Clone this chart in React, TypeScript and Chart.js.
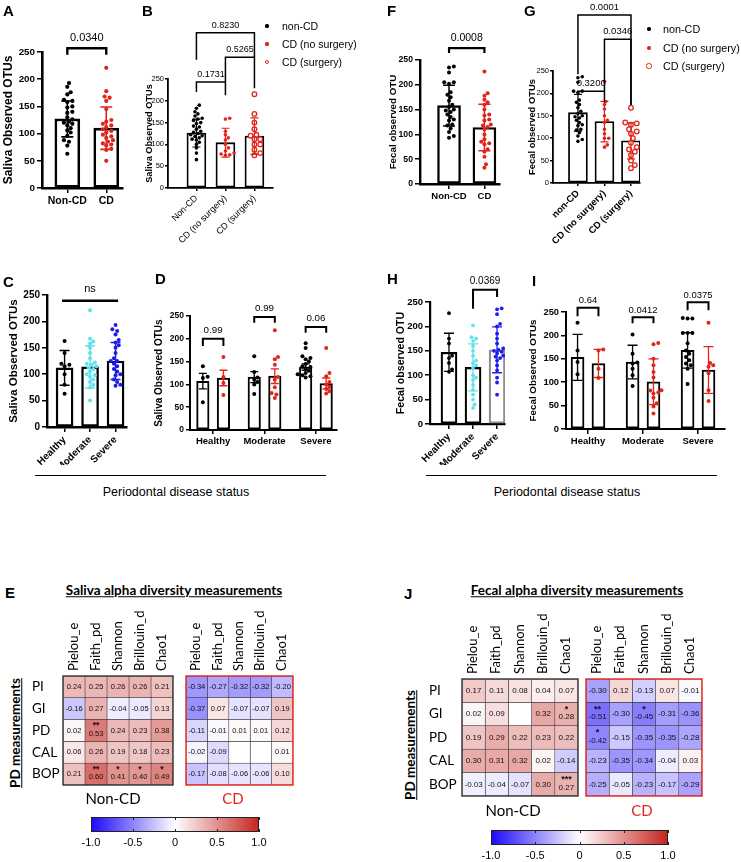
import React, { useEffect, useRef } from 'react';
import { Chart, registerables } from 'chart.js';

Chart.register(...registerables);
Chart.defaults.color = '#000';

const ARIAL = '"Liberation Sans", Arial, Helvetica, sans-serif';
const LATO = 'Lato, "Liberation Sans", sans-serif';
const BLACK = '#000000';
const RED = '#E1251B';
const CYAN = '#5FE2EA';
const BLUE = '#1C1CEE';
const GREYBAR = '#8C8C8C';

// ---------------- Panel A (saliva, Non-CD vs CD) ----------------
const aCategories = ['Non-CD', 'CD'];
const aNonCD = [193, 186, 176, 172, 162, 160, 158, 150, 148, 140, 138, 130, 126, 122, 120, 118, 115, 110, 106, 102, 96, 88, 85, 78, 63];
const aCD = [221, 178, 168, 166, 160, 145, 125, 122, 118, 115, 112, 108, 105, 102, 98, 95, 92, 88, 85, 82, 80, 78, 72, 70, 50];
const aMeans = [127, 110];
const aErrs = [33, 39];
const aPvals = ['0.0340'];

// ---------------- Panel B (saliva, surgery split) ----------------
const bCategories = ['Non-CD', 'CD (no surgery)', 'CD (surgery)'];
const bNonCD = [190, 183, 175, 170, 165, 160, 158, 155, 150, 148, 142, 140, 135, 130, 128, 125, 122, 120, 118, 115, 112, 110, 105, 100, 92, 80, 65];
const bNoSurgery = [160, 158, 130, 122, 115, 110, 100, 92, 85, 80, 78, 76, 75];
const bSurgery = [215, 170, 150, 135, 122, 120, 112, 112, 100, 100, 88, 80, 75];
const bMeans = [126, 104, 119];
const bErrs = [32, 33, 42];
const bPvals = ['0.1731', '0.5265', '0.8230'];

// ---------------- Panel F (fecal, Non-CD vs CD) ----------------
const fCategories = ['Non-CD', 'CD'];
const fNonCD = [237, 235, 225, 205, 205, 202, 185, 180, 175, 168, 160, 155, 150, 148, 145, 140, 135, 130, 128, 120, 118, 112, 105, 97, 93];
const fCD = [227, 183, 178, 170, 165, 160, 150, 140, 138, 130, 128, 120, 118, 115, 110, 100, 90, 85, 82, 80, 70, 65, 55, 40, 33];
const fMeans = [158, 114];
const fErrs = [41, 47];
const fPvals = ['0.0008'];

// ---------------- Panel G (fecal, surgery split) ----------------
const gCategories = ['non-CD', 'CD (no surgery)', 'CD (surgery)'];
const gNonCD = [237, 235, 225, 205, 205, 202, 185, 180, 175, 168, 160, 155, 150, 148, 145, 140, 135, 130, 128, 120, 118, 112, 105, 97, 93];
const gNoSurgery = [227, 182, 175, 165, 150, 140, 135, 120, 110, 100, 100, 85, 80];
const gSurgery = [168, 135, 133, 130, 120, 115, 110, 100, 90, 80, 75, 70, 62, 50, 40, 33];
const gMeans = [157, 137, 94];
const gErrs = [41, 45, 40];
const gPvals = ['0.3200', '0.0346', '0.0001'];

// ---------------- Panel C (saliva, periodontal status) ----------------
const cCategories = ['Healthy', 'Moderate', 'Severe'];
const cHealthy = [163, 140, 120, 118, 115, 100, 80, 63];
const cModerate = [221, 167, 162, 158, 150, 140, 130, 122, 120, 118, 115, 112, 110, 105, 100, 98, 95, 90, 85, 80, 75, 50];
const cSevere = [193, 185, 182, 175, 165, 160, 155, 150, 140, 130, 125, 125, 120, 115, 110, 105, 100, 98, 90, 85, 80, 78];
const cMeans = [112, 114, 125];
const cErrs = [33, 40, 35];
const cPvals = ['ns'];

// ---------------- Panel D (saliva, status x CD) ----------------
const dCategories = ['Healthy', 'Moderate', 'Severe'];
const dHealthyNonCD = [140, 117, 114, 61];
const dHealthyCD = [160, 116, 103, 77];
const dModerateNonCD = [162, 127, 115, 110, 105, 100, 79];
const dModerateCD = [219, 160, 155, 143, 116, 110, 94, 81, 78, 70];
const dSevereNonCD = [190, 180, 162, 158, 155, 150, 145, 140, 138, 135, 130, 125, 122, 120, 118, 115];
const dSevereCD = [180, 125, 118, 105, 100, 95, 90, 85, 80];
const dMeans = [107, 114, 116, 118, 138, 102];
const dErrs = [17, 17, 12, 16, 7, 12];
const dPvals = ['0.99', '0.99', '0.06'];

// ---------------- Panel H (fecal, periodontal status) ----------------
const hCategories = ['Healthy', 'Moderate', 'Severe'];
const hHealthy = [227, 175, 165, 140, 135, 125, 112, 107];
const hModerate = [202, 178, 175, 170, 160, 150, 140, 130, 125, 120, 115, 100, 95, 90, 80, 70, 60, 50, 40, 33];
const hSevere = [237, 235, 225, 205, 200, 185, 175, 165, 155, 152, 150, 148, 145, 140, 138, 135, 130, 120, 110, 95, 85, 60];
const hMeans = [147, 116, 152];
const hErrs = [39, 48, 47];
const hPvals = ['0.0369'];

// ---------------- Panel I (fecal, status x CD) ----------------
const iCategories = ['Healthy', 'Moderate', 'Severe'];
const iHealthyNonCD = [227, 168, 143, 117];
const iHealthyCD = [170, 168, 129, 109];
const iModerateNonCD = [202, 161, 142, 140, 129, 115, 92];
const iModerateCD = [184, 181, 150, 136, 122, 110, 83, 82, 78, 76, 67, 55, 48, 33];
const iSevereNonCD = [237, 236, 236, 205, 205, 205, 183, 168, 161, 154, 147, 140, 136, 129, 96];
const iSevereCD = [227, 141, 136, 133, 119, 83, 60];
const iMeans = [153, 140, 143, 101, 168, 126];
const iErrs = [49, 30, 36, 49, 38, 50];
const iPvals = ['0.64', '0.0412', '0.0375'];

const legendLabels = ['non-CD', 'CD (no surgery)', 'CD (surgery)'];
const yAxisMax = 250;
const yAxisStep = 50;

// ---------------- Heatmaps (E, J) ----------------
const hmRows = ['PI', 'GI', 'PD', 'CAL', 'BOP'];
const hmCols = ['Pielou_e', 'Faith_pd', 'Shannon', 'Brillouin_d', 'Chao1'];
const eNonCD = [
  [0.24, 0.25, 0.26, 0.26, 0.21],
  [-0.16, 0.27, -0.04, -0.05, 0.13],
  [0.02, 0.53, 0.24, 0.23, 0.38],
  [0.06, 0.26, 0.19, 0.18, 0.23],
  [0.21, 0.60, 0.41, 0.40, 0.49],
];
const eNonCDStars = [
  ['', '', '', '', ''],
  ['', '', '', '', ''],
  ['', '**', '', '', ''],
  ['', '', '', '', ''],
  ['', '**', '*', '*', '*'],
];
const eCD = [
  [-0.34, -0.27, -0.32, -0.32, -0.20],
  [-0.37, 0.07, -0.07, -0.07, 0.19],
  [-0.11, -0.01, 0.01, 0.01, 0.12],
  [-0.02, -0.09, null, null, 0.01],
  [-0.17, -0.08, -0.06, -0.06, 0.10],
];
const eCDStars = [
  ['', '', '', '', ''],
  ['', '', '', '', ''],
  ['', '', '', '', ''],
  ['', '', '', '', ''],
  ['', '', '', '', ''],
];
const jNonCD = [
  [0.17, 0.11, 0.08, 0.04, 0.07],
  [0.02, 0.09, null, 0.32, 0.28],
  [0.19, 0.29, 0.22, 0.23, 0.22],
  [0.30, 0.31, 0.32, 0.02, -0.14],
  [-0.03, -0.04, -0.07, 0.30, 0.27],
];
const jNonCDStars = [
  ['', '', '', '', ''],
  ['', '', '', '', '*'],
  ['', '', '', '', ''],
  ['', '', '', '', ''],
  ['', '', '', '', '***'],
];
const jCD = [
  [-0.30, 0.12, -0.13, 0.07, -0.01],
  [-0.51, -0.30, -0.45, -0.31, -0.36],
  [-0.42, -0.15, -0.35, -0.35, -0.28],
  [-0.23, -0.35, -0.34, -0.04, 0.03],
  [-0.25, -0.05, -0.23, -0.17, -0.29],
];
const jCDStars = [
  ['', '', '', '', ''],
  ['**', '', '*', '', ''],
  ['*', '', '', '', ''],
  ['', '', '', '', ''],
  ['', '', '', '', ''],
];
const colorbarRange = [-1, 1];
const colorbarTicks = [-1, -0.5, 0, 0.5, 1];

// ---------------- helpers ----------------
const NEG = [28, 8, 250];
const POS = [196, 36, 30];
function corrColor(v: number | null): string {
  if (v === null || v === undefined) return '#ffffff';
  const t = Math.min(1, Math.pow(Math.abs(v), 0.8));
  const end = v < 0 ? NEG : POS;
  const c = end.map((e) => Math.round(255 + (e - 255) * t));
  return `rgb(${c[0]},${c[1]},${c[2]})`;
}

function swarm(values: number[], center: number, pxPerVal: number, pxPerX: number, r: number, maxSpread: number) {
  const order = values.map((_, i) => i).sort((a, b) => values[a] - values[b]);
  const placed: { x: number; y: number }[] = [];
  const out: { x: number; y: number }[] = new Array(values.length);
  const minD = 2 * r * 0.95;
  for (const i of order) {
    const py = values[i] * pxPerVal;
    let best = 0;
    let bestScore = -1;
    for (let k = 0; k < 60; k++) {
      const cand = k === 0 ? 0 : (k % 2 ? 1 : -1) * Math.ceil(k / 2) * r * 0.8;
      if (Math.abs(cand) > maxSpread) break;
      let dmin = Infinity;
      for (const p of placed) {
        const d = Math.hypot(p.x - cand, p.y - py);
        if (d < dmin) dmin = d;
      }
      if (dmin >= minD) { best = cand; bestScore = Infinity; break; }
      if (dmin > bestScore) { bestScore = dmin; best = cand; }
    }
    placed.push({ x: best, y: py });
    out[i] = { x: center + best / pxPerX, y: values[i] };
  }
  return out;
}

type Group = { values: number[]; x: number; mean: number; err: number; color: string; hollow?: boolean; border?: string };
type Bracket = { x1: number; x2: number; y: number; l1: number; l2: number; label: string };
type Panel = {
  canvas: number[]; plot: number[]; xMin: number; xMax: number; ticks: number[]; tickLabels: string[]; rotation: number;
  groups: Group[]; barThickness: number; lw: number; radius: number; cap: number; errLw: number;
  yTitle: string; titleSize: number; tickSize: number; tickBold: boolean; xSize: number; xBold: boolean; tickLen: number;
  brackets: Bracket[]; bracketSize: number; bracketGap: number; bracketLw: number;
};

const panels: Panel[] = [
  {
    canvas: [1, 0, 140, 215], plot: [42, 52, 123, 188], xMin: -0.65, xMax: 1.43, ticks: [0, 1], tickLabels: aCategories, rotation: 0,
    groups: [
      { values: aNonCD, x: 0, mean: aMeans[0], err: aErrs[0], color: BLACK },
      { values: aCD, x: 1, mean: aMeans[1], err: aErrs[1], color: RED },
    ],
    barThickness: 25, lw: 2.6, radius: 2.1, cap: 6, errLw: 1.6,
    yTitle: 'Saliva Observed OTUs', titleSize: 12, tickSize: 9.8, tickBold: true, xSize: 10.5, xBold: true, tickLen: 5,
    brackets: [{ x1: 0, x2: 1, y: 257, l1: 245, l2: 245, label: aPvals[0] }], bracketSize: 11, bracketGap: 7, bracketLw: 2.4,
  },
  {
    canvas: [144, 0, 140, 262], plot: [168, 79, 273, 188], xMin: -0.98, xMax: 2.64, ticks: [0, 1, 2], tickLabels: bCategories, rotation: 45,
    groups: [
      { values: bNonCD, x: 0, mean: bMeans[0], err: bErrs[0], color: BLACK },
      { values: bNoSurgery, x: 1, mean: bMeans[1], err: bErrs[1], color: RED },
      { values: bSurgery, x: 2, mean: bMeans[2], err: bErrs[2], color: RED, hollow: true },
    ],
    barThickness: 19, lw: 1.8, radius: 1.8, cap: 4, errLw: 1.2,
    yTitle: 'Saliva Observed OTUs', titleSize: 9.2, tickSize: 7.5, tickBold: false, xSize: 9, xBold: false, tickLen: 3,
    brackets: [
      { x1: 0, x2: 1, y: 243, l1: 220, l2: 213, label: bPvals[0] },
      { x1: 1, x2: 2, y: 300, l1: 243, l2: 229, label: bPvals[1] },
      { x1: 0, x2: 2, y: 356, l1: 294, l2: 300, label: bPvals[2] },
    ], bracketSize: 9, bracketGap: 5, bracketLw: 1.5,
  },
  {
    canvas: [387, 0, 125, 210], plot: [420, 60, 500, 184], xMin: -0.82, xMax: 1.44, ticks: [0, 1], tickLabels: fCategories, rotation: 0,
    groups: [
      { values: fNonCD, x: 0, mean: fMeans[0], err: fErrs[0], color: BLACK },
      { values: fCD, x: 1, mean: fMeans[1], err: fErrs[1], color: RED },
    ],
    barThickness: 23, lw: 2.4, radius: 2.0, cap: 6, errLw: 1.5,
    yTitle: 'Fecal observed OTU', titleSize: 9.8, tickSize: 8.7, tickBold: true, xSize: 9.5, xBold: true, tickLen: 5,
    brackets: [{ x1: 0, x2: 1, y: 274, l1: 264, l2: 264, label: fPvals[0] }], bracketSize: 10.5, bracketGap: 7, bracketLw: 2.2,
  },
  {
    canvas: [527, 0, 124, 262], plot: [553, 71, 640, 183], xMin: -0.94, xMax: 2.34, ticks: [0, 1, 2], tickLabels: gCategories, rotation: 45,
    groups: [
      { values: gNonCD, x: 0, mean: gMeans[0], err: gErrs[0], color: BLACK },
      { values: gNoSurgery, x: 1, mean: gMeans[1], err: gErrs[1], color: RED },
      { values: gSurgery, x: 2, mean: gMeans[2], err: gErrs[2], color: RED, hollow: true },
    ],
    barThickness: 19, lw: 1.8, radius: 1.8, cap: 4, errLw: 1.2,
    yTitle: 'Fecal observed OTUs', titleSize: 9.4, tickSize: 7.5, tickBold: false, xSize: 9.5, xBold: true, tickLen: 3,
    brackets: [
      { x1: 0, x2: 1, y: 205, l1: 196, l2: 181, label: gPvals[0] },
      { x1: 1, x2: 2, y: 321, l1: 205, l2: 174, label: gPvals[1] },
      { x1: 0, x2: 2, y: 375, l1: 243, l2: 174, label: gPvals[2] },
    ], bracketSize: 9.5, bracketGap: 5, bracketLw: 1.5,
  },
  {
    canvas: [7, 270, 130, 195], plot: [47, 295, 127, 427], xMin: -0.69, xMax: 2.45, ticks: [0, 1, 2], tickLabels: cCategories, rotation: 45,
    groups: [
      { values: cHealthy, x: 0, mean: cMeans[0], err: cErrs[0], color: BLACK },
      { values: cModerate, x: 1, mean: cMeans[1], err: cErrs[1], color: CYAN },
      { values: cSevere, x: 2, mean: cMeans[2], err: cErrs[2], color: BLUE },
    ],
    barThickness: 17, lw: 2.4, radius: 2.0, cap: 5, errLw: 1.4,
    yTitle: 'Saliva Observed OTUs', titleSize: 11.5, tickSize: 10, tickBold: true, xSize: 10, xBold: true, tickLen: 5,
    brackets: [{ x1: -0.1, x2: 2.1, y: 239, l1: 239, l2: 239, label: cPvals[0] }], bracketSize: 11, bracketGap: 9, bracketLw: 2.4,
  },
  {
    canvas: [153, 290, 195, 165], plot: [190, 316, 337, 430], xMin: -0.45, xMax: 2.41, ticks: [0, 1, 2], tickLabels: dCategories, rotation: 0,
    groups: [
      { values: dHealthyNonCD, x: -0.2, mean: dMeans[0], err: dErrs[0], color: BLACK },
      { values: dHealthyCD, x: 0.2, mean: dMeans[1], err: dErrs[1], color: RED },
      { values: dModerateNonCD, x: 0.8, mean: dMeans[2], err: dErrs[2], color: BLACK },
      { values: dModerateCD, x: 1.2, mean: dMeans[3], err: dErrs[3], color: RED },
      { values: dSevereNonCD, x: 1.8, mean: dMeans[4], err: dErrs[4], color: BLACK },
      { values: dSevereCD, x: 2.2, mean: dMeans[5], err: dErrs[5], color: RED },
    ],
    barThickness: 12.5, lw: 2, radius: 2.0, cap: 4, errLw: 1.3,
    yTitle: 'Saliva Observed OTUs', titleSize: 10, tickSize: 8.5, tickBold: true, xSize: 9.5, xBold: true, tickLen: 4,
    brackets: [
      { x1: -0.2, x2: 0.2, y: 200, l1: 184, l2: 184, label: dPvals[0] },
      { x1: 0.8, x2: 1.2, y: 248, l1: 235, l2: 235, label: dPvals[1] },
      { x1: 1.8, x2: 2.2, y: 226, l1: 213, l2: 213, label: dPvals[2] },
    ], bracketSize: 9.8, bracketGap: 6, bracketLw: 2,
  },
  {
    canvas: [395, 270, 120, 195], plot: [430, 302, 505, 424], xMin: -0.79, xMax: 2.33, ticks: [0, 1, 2], tickLabels: hCategories, rotation: 45,
    groups: [
      { values: hHealthy, x: 0, mean: hMeans[0], err: hErrs[0], color: BLACK },
      { values: hModerate, x: 1, mean: hMeans[1], err: hErrs[1], color: CYAN },
      { values: hSevere, x: 2, mean: hMeans[2], err: hErrs[2], color: BLUE, border: GREYBAR },
    ],
    barThickness: 16, lw: 2.2, radius: 1.9, cap: 5, errLw: 1.3,
    yTitle: 'Fecal observed OTU', titleSize: 10.6, tickSize: 9.5, tickBold: true, xSize: 10, xBold: true, tickLen: 5,
    brackets: [{ x1: 1, x2: 2, y: 275, l1: 236, l2: 260, label: hPvals[0] }], bracketSize: 10, bracketGap: 6, bracketLw: 2,
  },
  {
    canvas: [527, 280, 208, 175], plot: [566, 312, 725, 429], xMin: -0.4, xMax: 2.49, ticks: [0, 1, 2], tickLabels: iCategories, rotation: 0,
    groups: [
      { values: iHealthyNonCD, x: -0.19, mean: iMeans[0], err: iErrs[0], color: BLACK },
      { values: iHealthyCD, x: 0.19, mean: iMeans[1], err: iErrs[1], color: RED },
      { values: iModerateNonCD, x: 0.81, mean: iMeans[2], err: iErrs[2], color: BLACK },
      { values: iModerateCD, x: 1.19, mean: iMeans[3], err: iErrs[3], color: RED },
      { values: iSevereNonCD, x: 1.81, mean: iMeans[4], err: iErrs[4], color: BLACK },
      { values: iSevereCD, x: 2.19, mean: iMeans[5], err: iErrs[5], color: RED },
    ],
    barThickness: 13, lw: 2, radius: 2.0, cap: 5, errLw: 1.3,
    yTitle: 'Fecal Observed OTUs', titleSize: 9.8, tickSize: 9.3, tickBold: true, xSize: 9.5, xBold: true, tickLen: 5,
    brackets: [
      { x1: -0.19, x2: 0.19, y: 259, l1: 241, l2: 241, label: iPvals[0] },
      { x1: 0.81, x2: 1.19, y: 239, l1: 226, l2: 226, label: iPvals[1] },
      { x1: 1.81, x2: 2.19, y: 271, l1: 254, l2: 254, label: iPvals[2] },
    ], bracketSize: 9.5, bracketGap: 4.5, bracketLw: 2,
  },
];

function BarDotPanel({ cfg }: { cfg: Panel }) {
  const ref = useRef<HTMLCanvasElement>(null);
  const [cx, cy, cw, ch] = cfg.canvas;
  useEffect(() => {
    const [pl, pt, pr, pb] = cfg.plot;
    const pxPerVal = (pb - pt) / yAxisMax;
    const pxPerX = (pr - pl) / (cfg.xMax - cfg.xMin);
    const datasets: any[] = [
      {
        type: 'bar',
        data: cfg.groups.map((g) => ({ x: g.x, y: g.mean })),
        backgroundColor: '#ffffff',
        borderColor: cfg.groups.map((g) => g.border || BLACK),
        borderWidth: cfg.lw,
        borderSkipped: false,
        barThickness: cfg.barThickness,
        order: 2,
      },
      ...cfg.groups.map((g) => ({
        type: 'scatter',
        data: swarm(g.values, g.x, pxPerVal, pxPerX, cfg.radius + (g.hollow ? 0.6 : 0), cfg.barThickness * 0.72),
        pointRadius: g.hollow ? cfg.radius + 0.5 : cfg.radius,
        pointBackgroundColor: g.hollow ? '#ffffff' : g.color,
        pointBorderColor: g.color,
        pointBorderWidth: g.hollow ? 1.3 : 0,
        order: 1,
      })),
    ];
    const decor = {
      id: 'decor',
      afterDatasetsDraw(chart: any) {
        const { ctx } = chart;
        const xs = chart.scales.x;
        const ys = chart.scales.y;
        ctx.save();
        ctx.lineCap = 'butt';
        cfg.groups.forEach((g) => {
          const px = xs.getPixelForValue(g.x);
          const top = ys.getPixelForValue(g.mean + g.err);
          const bot = ys.getPixelForValue(Math.max(0, g.mean - g.err));
          ctx.strokeStyle = g.color;
          ctx.lineWidth = cfg.errLw;
          ctx.beginPath();
          ctx.moveTo(px, top); ctx.lineTo(px, bot);
          ctx.moveTo(px - cfg.cap, top); ctx.lineTo(px + cfg.cap, top);
          ctx.moveTo(px - cfg.cap, bot); ctx.lineTo(px + cfg.cap, bot);
          ctx.stroke();
        });
        ctx.restore();
      },
      afterDraw(chart: any) {
        const { ctx } = chart;
        const xs = chart.scales.x;
        const ys = chart.scales.y;
        ctx.save();
        ctx.strokeStyle = '#000';
        ctx.fillStyle = '#000';
        ctx.lineWidth = cfg.bracketLw;
        ctx.lineJoin = 'miter';
        ctx.font = `${cfg.bracketSize}px ${ARIAL}`;
        ctx.textAlign = 'center';
        ctx.textBaseline = 'alphabetic';
        cfg.brackets.forEach((b) => {
          const x1 = xs.getPixelForValue(b.x1);
          const x2 = xs.getPixelForValue(b.x2);
          const y = ys.getPixelForValue(b.y);
          ctx.beginPath();
          ctx.moveTo(x1, ys.getPixelForValue(b.l1));
          ctx.lineTo(x1, y);
          ctx.lineTo(x2, y);
          ctx.lineTo(x2, ys.getPixelForValue(b.l2));
          ctx.stroke();
          ctx.fillText(b.label, (x1 + x2) / 2, y - cfg.bracketGap);
        });
        ctx.restore();
      },
    };
    const chart = new Chart(ref.current as HTMLCanvasElement, {
      type: 'bar',
      data: { datasets },
      options: {
        responsive: false,
        animation: false,
        events: [],
        plugins: { legend: { display: false }, tooltip: { enabled: false } },
        layout: { padding: { left: 0, top: pt - cy, right: cx + cw - pr, bottom: 0 } },
        scales: {
          x: {
            type: 'linear', min: cfg.xMin, max: cfg.xMax, offset: false,
            afterBuildTicks: (s: any) => { s.ticks = cfg.ticks.map((v) => ({ value: v })); },
            afterFit: (s: any) => { s.height = cy + ch - pb; s.paddingLeft = 0; s.paddingRight = 0; },
            ticks: {
              autoSkip: false, minRotation: cfg.rotation, maxRotation: cfg.rotation, padding: 2,
              font: { family: ARIAL, size: cfg.xSize, weight: cfg.xBold ? 'bold' : 'normal' },
              color: '#000',
              callback: (_v: any, i: number) => cfg.tickLabels[i],
            },
            grid: { display: true, offset: false, drawOnChartArea: false, drawTicks: true, tickLength: cfg.tickLen, color: '#000', lineWidth: 1.5 },
            border: { display: true, color: '#000', width: cfg.lw },
          },
          y: {
            type: 'linear', min: 0, max: yAxisMax,
            afterFit: (s: any) => { s.width = pl - cx; s.paddingTop = 0; s.paddingBottom = 0; },
            ticks: { stepSize: yAxisStep, padding: cfg.tickLen > 3 ? 2 : 1, color: '#000', font: { family: ARIAL, size: cfg.tickSize, weight: cfg.tickBold ? 'bold' : 'normal' } },
            grid: { display: true, drawOnChartArea: false, drawTicks: true, tickLength: cfg.tickLen, color: '#000', lineWidth: 1.5 },
            border: { display: true, color: '#000', width: cfg.lw },
            title: { display: true, text: cfg.yTitle, color: '#000', padding: 0, font: { family: ARIAL, size: cfg.titleSize, weight: 'bold' } },
          },
        },
      } as any,
      plugins: [decor],
    });
    return () => chart.destroy();
  }, []);
  return <canvas ref={ref} width={cw} height={ch} style={{ position: 'absolute', left: cx, top: cy, width: cw, height: ch }} />;
}

type HeatProps = { canvas: number[]; grid: number[]; values: (number | null)[][]; stars: string[][]; showRows: boolean; outer: string; fontSize: number };

function Heatmap({ canvas, grid, values, stars, showRows, outer, fontSize }: HeatProps) {
  const ref = useRef<HTMLCanvasElement>(null);
  const [cx, cy, cw, ch] = canvas;
  useEffect(() => {
    const [gl, gt, gr, gb] = grid;
    const datasets = hmCols.map((c, j) => ({
      label: c,
      data: hmRows.map(() => 1),
      backgroundColor: hmRows.map((_, i) => corrColor(values[i][j])),
      borderColor: '#3a3a3a',
      borderWidth: 0.6,
      borderSkipped: false,
      barPercentage: 1,
      categoryPercentage: 1,
    }));
    const cellText = {
      id: 'cellText',
      afterDatasetsDraw(chart: any) {
        const { ctx } = chart;
        ctx.save();
        ctx.textAlign = 'center';
        ctx.textBaseline = 'middle';
        ctx.fillStyle = '#111';
        hmCols.forEach((_, j) => {
          const meta = chart.getDatasetMeta(j);
          hmRows.forEach((__, i) => {
            const v = values[i][j];
            if (v === null || v === undefined) return;
            const p = meta.data[i].getCenterPoint();
            const s = stars[i][j];
            ctx.font = `${fontSize}px ${ARIAL}`;
            ctx.fillText(v.toFixed(2), p.x, s ? p.y + 3 : p.y);
            if (s) {
              ctx.font = `bold ${fontSize + 1}px ${ARIAL}`;
              ctx.fillText(s, p.x, p.y - 4.5);
            }
          });
        });
        const a = chart.chartArea;
        ctx.strokeStyle = outer;
        ctx.lineWidth = 1.4;
        ctx.strokeRect(a.left, a.top, a.right - a.left, a.bottom - a.top);
        ctx.restore();
      },
    };
    const chart = new Chart(ref.current as HTMLCanvasElement, {
      type: 'bar',
      data: { labels: hmRows, datasets },
      options: {
        indexAxis: 'y',
        responsive: false,
        animation: false,
        events: [],
        plugins: { legend: { display: false }, tooltip: { enabled: false } },
        layout: { padding: { left: showRows ? 0 : gl - cx, top: 0, right: cx + cw - gr, bottom: cy + ch - gb } },
        scales: {
          x: {
            type: 'linear', position: 'top', stacked: true, min: 0, max: hmCols.length,
            afterBuildTicks: (s: any) => { s.ticks = hmCols.map((_, j) => ({ value: j + 0.5 })); },
            afterFit: (s: any) => { s.height = gt - cy; s.paddingLeft = 0; s.paddingRight = 0; },
            ticks: { autoSkip: false, minRotation: 90, maxRotation: 90, padding: 5, labelOffset: 15, color: '#000', font: { family: LATO, size: 13 }, callback: (_v: any, i: number) => hmCols[i] },
            grid: { display: false, drawTicks: false, tickLength: 0 },
            border: { display: false },
          },
          y: {
            type: 'category', stacked: true, display: showRows, offset: true,
            afterFit: (s: any) => { s.width = gl - cx; s.paddingTop = 0; s.paddingBottom = 0; },
            ticks: { crossAlign: 'far', padding: 0, color: '#000', font: { family: LATO, size: 13.5 } },
            grid: { display: false, drawTicks: false, tickLength: 0 },
            border: { display: false },
          },
        },
      } as any,
      plugins: [cellText],
    });
    return () => chart.destroy();
  }, []);
  return <canvas ref={ref} width={cw} height={ch} style={{ position: 'absolute', left: cx, top: cy, width: cw, height: ch }} />;
}

function ColorBar({ canvas, bar }: { canvas: number[]; bar: number[] }) {
  const ref = useRef<HTMLCanvasElement>(null);
  const [cx, cy, cw, ch] = canvas;
  useEffect(() => {
    const [bl, bt, br, bb] = bar;
    const ticksPlugin = {
      id: 'cbTicks',
      afterDatasetsDraw(chart: any) {
        const { ctx, chartArea: a } = chart;
        const xs = chart.scales.x;
        ctx.save();
        ctx.strokeStyle = '#222';
        ctx.lineWidth = 1;
        colorbarTicks.forEach((t) => {
          const px = Math.round(xs.getPixelForValue(t)) + 0.5;
          ctx.beginPath();
          ctx.moveTo(px, a.top); ctx.lineTo(px, a.top + 3);
          ctx.moveTo(px, a.bottom); ctx.lineTo(px, a.bottom - 3);
          ctx.stroke();
        });
        ctx.restore();
      },
    };
    const chart = new Chart(ref.current as HTMLCanvasElement, {
      type: 'bar',
      data: {
        labels: [''],
        datasets: [{
          data: [colorbarRange],
          backgroundColor: (c: any) => {
            const area = c.chart.chartArea;
            if (!area) return '#fff';
            const g = c.chart.ctx.createLinearGradient(area.left, 0, area.right, 0);
            g.addColorStop(0, corrColor(-1));
            g.addColorStop(0.5, '#ffffff');
            g.addColorStop(1, corrColor(1));
            return g;
          },
          borderColor: '#222',
          borderWidth: 1.4,
          borderSkipped: false,
          barPercentage: 1,
          categoryPercentage: 1,
        }],
      },
      options: {
        indexAxis: 'y',
        responsive: false,
        animation: false,
        events: [],
        plugins: { legend: { display: false }, tooltip: { enabled: false } },
        layout: { padding: { left: bl - cx, top: bt - cy, right: cx + cw - br, bottom: 0 } },
        scales: {
          x: {
            type: 'linear', min: colorbarRange[0], max: colorbarRange[1],
            afterBuildTicks: (s: any) => { s.ticks = colorbarTicks.map((v) => ({ value: v })); },
            afterFit: (s: any) => { s.height = cy + ch - bb; s.paddingLeft = 0; s.paddingRight = 0; },
            ticks: { autoSkip: false, maxRotation: 0, padding: 4, color: '#000', font: { family: ARIAL, size: 11 }, callback: (v: any) => (v === 0 ? '0' : Number(v).toFixed(1)) },
            grid: { display: false, drawTicks: false, tickLength: 0 },
            border: { display: false },
          },
          y: { display: false, offset: true },
        },
      } as any,
      plugins: [ticksPlugin],
    });
    return () => chart.destroy();
  }, []);
  return <canvas ref={ref} width={cw} height={ch} style={{ position: 'absolute', left: cx, top: cy, width: cw, height: ch }} />;
}

type TxtProps = { x: number; y: number; size: number; bold?: boolean; color?: string; align?: string; family?: string; underline?: boolean; rotate?: number; children: any };
function Txt({ x, y, size, bold, color = '#000', align = 'left', family = ARIAL, underline, rotate, children }: TxtProps) {
  const tx = align === 'center' ? '-50%' : align === 'right' ? '-100%' : '0';
  const transform = rotate ? `translate(-50%, -50%) rotate(${rotate}deg)` : `translate(${tx}, -50%)`;
  return (
    <div style={{ position: 'absolute', left: x, top: y, fontSize: size, fontWeight: bold ? 700 : 400, color, fontFamily: family, lineHeight: 1, whiteSpace: 'nowrap', transform, textDecoration: underline ? 'underline' : 'none' }}>
      {children}
    </div>
  );
}

function Dot({ x, y, r, color, hollow }: { x: number; y: number; r: number; color: string; hollow?: boolean }) {
  return (
    <div style={{ position: 'absolute', left: x - r, top: y - r, width: 2 * r, height: 2 * r, borderRadius: '50%', boxSizing: 'border-box', background: hollow ? '#fff' : color, border: hollow ? `1.3px solid ${color}` : 'none' }} />
  );
}

const legendColors = [BLACK, RED, RED];
const legendHollow = [false, false, true];

function Legend({ dotX, textX, ys, size, r }: { dotX: number; textX: number; ys: number[]; size: number; r: number }) {
  return (
    <>
      {legendLabels.map((l, i) => (
        <React.Fragment key={l}>
          <Dot x={dotX} y={ys[i]} r={legendHollow[i] ? r + 0.8 : r} color={legendColors[i]} hollow={legendHollow[i]} />
          <Txt x={textX} y={ys[i]} size={size}>{l}</Txt>
        </React.Fragment>
      ))}
    </>
  );
}

const letters = [
  { t: 'A', x: 3, y: 10 }, { t: 'B', x: 142, y: 10 }, { t: 'F', x: 387, y: 10 }, { t: 'G', x: 524, y: 10 },
  { t: 'C', x: 3, y: 281 }, { t: 'D', x: 155, y: 278 }, { t: 'H', x: 387, y: 278 }, { t: 'I', x: 532, y: 280 },
  { t: 'E', x: 5, y: 592 }, { t: 'J', x: 404, y: 593 },
];

export default function App() {
  return (
    <div style={{ position: 'absolute', left: 0, top: 0, width: 741, height: 862, background: '#fff', overflow: 'hidden', fontFamily: ARIAL }}>
      {panels.map((p, i) => <BarDotPanel key={i} cfg={p} />)}

      <Heatmap canvas={[32, 600, 144, 190]} grid={[63, 676, 173, 785]} values={eNonCD} stars={eNonCDStars} showRows outer="#333" fontSize={7.5} />
      <Heatmap canvas={[178, 600, 120, 190]} grid={[182, 676, 293, 785]} values={eCD} stars={eCDStars} showRows={false} outer={RED} fontSize={7.5} />
      <Heatmap canvas={[429, 600, 152, 200]} grid={[462, 679, 578, 796]} values={jNonCD} stars={jNonCDStars} showRows outer="#333" fontSize={8} />
      <Heatmap canvas={[580, 600, 126, 200]} grid={[583, 679, 702, 796]} values={jCD} stars={jCDStars} showRows={false} outer={RED} fontSize={8} />
      <ColorBar canvas={[75, 812, 200, 44]} bar={[91, 817, 259, 832]} />
      <ColorBar canvas={[475, 825, 210, 37]} bar={[491, 830, 668, 845]} />

      {letters.map((l) => <Txt key={l.t} x={l.x} y={l.y} size={15} bold>{l.t}</Txt>)}

      <Legend dotX={267} textX={282} ys={[26, 44, 62]} size={10.5} r={1.6} />
      <Legend dotX={649} textX={663} ys={[29, 48, 66]} size={10.8} r={1.8} />

      <div style={{ position: 'absolute', left: 35, top: 475, width: 291, height: 0, borderTop: '1.8px solid #000' }} />
      <Txt x={176} y={492} size={12.5} align="center">Periodontal disease status</Txt>
      <div style={{ position: 'absolute', left: 426, top: 475, width: 291, height: 0, borderTop: '1.8px solid #000' }} />
      <Txt x={567} y={492} size={12.5} align="center">Periodontal disease status</Txt>

      <Txt x={174} y={591} size={13.5} bold underline align="center" family={LATO}>Saliva alpha diversity measurements</Txt>
      <Txt x={577} y={591} size={13.5} bold underline align="center" family={LATO}>Fecal alpha diversity measurements</Txt>
      <Txt x={16} y={733} size={13.5} bold underline rotate={-90} family={LATO}>PD measurements</Txt>
      <Txt x={411} y={745} size={13.5} bold underline rotate={-90} family={LATO}>PD measurements</Txt>
      <Txt x={113} y={798} size={15} align="center" family={LATO}>Non-CD</Txt>
      <Txt x={233} y={798} size={15} align="center" family={LATO} color={RED}>CD</Txt>
      <Txt x={513} y={810} size={15} align="center" family={LATO}>Non-CD</Txt>
      <Txt x={642} y={810} size={15} align="center" family={LATO} color={RED}>CD</Txt>
    </div>
  );
}
